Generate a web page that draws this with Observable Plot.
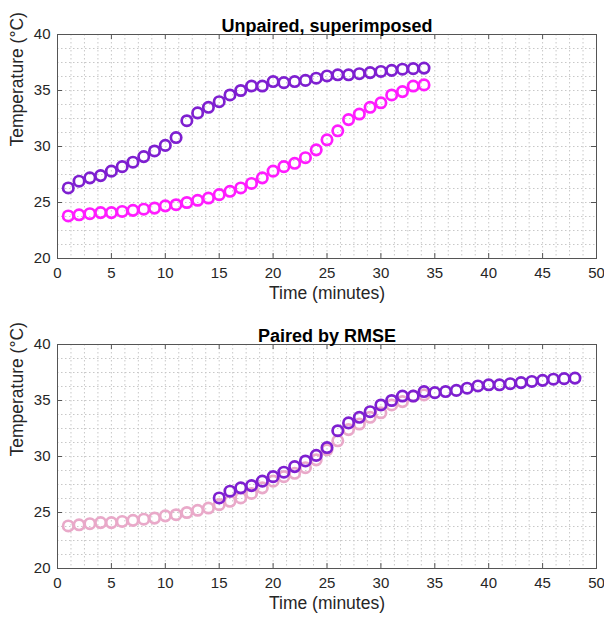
<!DOCTYPE html>
<html>
<head>
<meta charset="utf-8">
<script src="https://cdn.jsdelivr.net/npm/d3@7"></script>
<script src="https://cdn.jsdelivr.net/npm/@observablehq/plot@0.6"></script>
<style>
  html, body { margin: 0; padding: 0; background: #fff; }
  #charts svg { display: block; }
</style>
</head>
<body>
<div id="charts"></div>
<script>
const time = [1,2,3,4,5,6,7,8,9,10,11,12,13,14,15,16,17,18,19,20,21,22,23,24,25,26,27,28,29,30,31,32,33,34];
const seriesA = [26.3,26.9,27.2,27.4,27.8,28.2,28.6,29.1,29.6,30.1,30.8,32.3,33.0,33.5,34.0,34.6,35.0,35.4,35.4,35.8,35.7,35.8,35.9,36.1,36.3,36.4,36.4,36.5,36.6,36.7,36.8,36.9,36.95,37.0];
const seriesB = [23.8,23.9,24.0,24.1,24.1,24.2,24.3,24.4,24.5,24.7,24.8,25.0,25.2,25.4,25.7,26.0,26.3,26.7,27.2,27.8,28.2,28.5,29.0,29.7,30.6,31.4,32.4,32.9,33.5,33.9,34.6,34.9,35.4,35.5];
const lag = 14;
const xTicks = [0,5,10,15,20,25,30,35,40,45,50];
const yTicks = [20,25,30,35,40];
const titles = ["Unpaired, superimposed", "Paired by RMSE"];
const xLabel = "Time (minutes)";
const yLabel = "Temperature (°C)";

const purple = "#7e1fd0";
const magenta = "#ff1cff";
const pink = "#e9a9c9";
const font = "Liberation Sans, Arial, Helvetica, sans-serif";

const A = time.map((t, i) => ({t, v: seriesA[i]}));
const B = time.map((t, i) => ({t, v: seriesB[i]}));
const Ashift = time.map((t, i) => ({t: t + lag, v: seriesA[i]}));
const minor = d3.range(0, 50.001, 1.25);
const minorY = d3.range(20, 40.001, 1.25);

const W = 604, H = 310, mT = 34, mB = 52, mL = 57, mR = 8;
const fh = H - mT - mB, fw = W - mL - mR, tk = 5;
const axisStroke = "#555";

function panel(title, layers) {
  return Plot.plot({
    width: W, height: H,
    marginLeft: mL, marginRight: mR, marginTop: mT, marginBottom: mB,
    style: {fontFamily: font, fontSize: "15px", color: "#262626", background: "#fff"},
    x: {domain: [0, 50]},
    y: {domain: [20, 40]},
    marks: [
      Plot.gridX(minor, {stroke: "#c8c8c8", strokeOpacity: 1, strokeDasharray: "1.5,2.5"}),
      Plot.gridY(minorY, {stroke: "#c8c8c8", strokeOpacity: 1, strokeDasharray: "1.5,2.5"}),
      ...layers,
      // inward ticks (MATLAB style, box on)
      Plot.tickX(xTicks, {x: d => d, insetTop: fh - tk, stroke: axisStroke}),
      Plot.tickX(xTicks, {x: d => d, insetBottom: fh - tk, stroke: axisStroke}),
      Plot.tickY(yTicks, {y: d => d, insetRight: fw - tk, stroke: axisStroke}),
      Plot.tickY(yTicks, {y: d => d, insetLeft: fw - tk, stroke: axisStroke}),
      Plot.frame({stroke: axisStroke, strokeWidth: 1}),
      Plot.axisX(xTicks, {anchor: "bottom", tickSize: 0, tickPadding: 9, fontSize: 15, fill: "#262626", label: null}),
      Plot.axisY(yTicks, {anchor: "left", tickSize: 0, tickPadding: 7, fontSize: 15, fill: "#262626", label: null}),
      Plot.text([title], {frameAnchor: "top", lineAnchor: "bottom", dy: -3, fontWeight: "bold", fontSize: 18, fill: "#000"}),
      Plot.text([xLabel], {frameAnchor: "bottom", dy: 40, fontSize: 17.5, fill: "#262626"}),
      Plot.text([yLabel], {frameAnchor: "left", dx: -40, rotate: -90, fontSize: 17.5, fill: "#262626"})
    ]
  });
}

const dot = (data, color) => Plot.dot(data, {x: "t", y: "v", r: 5.2, stroke: color, strokeWidth: 2.7, fill: "none"});

const p1 = panel(titles[0], [dot(A, purple), dot(B, magenta)]);
const p2 = panel(titles[1], [dot(B, pink), dot(Ashift, purple)]);
document.getElementById("charts").append(p1, p2);
</script>
</body>
</html>
